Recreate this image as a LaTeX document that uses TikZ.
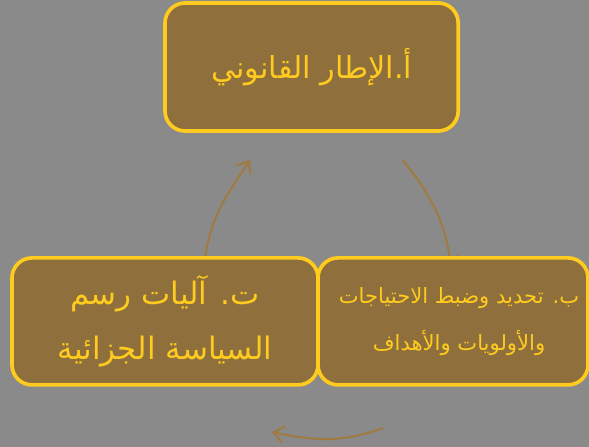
\documentclass[tikz,border=0pt]{standalone}
\usepackage{fontspec}
\usepackage{tikz}
\usetikzlibrary{positioning,arrows.meta}
\newfontfamily\arabicfont[Script=Arabic]{DejaVu Sans}
\TeXXeTstate=1
\definecolor{bggray}{HTML}{8A8A8A}
\definecolor{boxbrown}{HTML}{8F703C}
\definecolor{boxgold}{HTML}{FFCB1F}
\definecolor{arrbrown}{HTML}{A07A3E}

\begin{document}
\begin{tikzpicture}[
  bx/.style={draw=boxgold, fill=boxbrown, line width=2.6pt, rounded corners=0.5cm,
    align=center, text=boxgold, inner sep=0pt},
  arr/.style={-{Straight Barb[length=2.6mm, width=4.2mm]}, arrbrown, line width=1.4pt}]

% --- canvas ---
\fill[bggray] (0,0) rectangle (14.725,11.175);
\useasboundingbox (0,0) rectangle (14.725,11.175);

% --- free ends of the cycle arrows ---
\coordinate (r0) at (10.075,7.175);
\coordinate (r1) at (11.27,4.48);
\coordinate (l0) at (5.12,4.7);
\coordinate (l1) at (6.25,7.175);
\coordinate (b0) at (9.575,0.475);
\coordinate (b1) at (6.8,0.375);

% --- cycle arrows (under the boxes) ---
\draw[arr] (r0) to[out=-52, in=96] (r1);
\draw[arr] (l0) to[out=82, in=236] (l1);
\draw[arr] (b0) to[out=200, in=-12] (b1);

% --- the three stages ---
\node[bx, minimum width=7.33cm, minimum height=3.2cm, font=\arabicfont\fontsize{21.5}{26}\selectfont]
  (legal) at (7.79,9.5) {\beginR أ.الإطار القانوني\endR};
\node[bx, minimum width=7.65cm, minimum height=3.175cm, font=\arabicfont\fontsize{22}{39}\selectfont]
  (mech) at (4.125,3.14) {\beginR ت. آليات رسم\endR\\\beginR السياسة الجزائية\endR};
\node[bx, minimum width=6.75cm, minimum height=3.175cm, font=\arabicfont\fontsize{15}{33}\selectfont]
  (needs) at (11.325,3.14) {\hspace*{0.3cm}\beginR ب. تحديد وضبط الاحتياجات\endR\\\hspace*{0.3cm}\beginR والأولويات والأهداف\endR};
\end{tikzpicture}
\end{document}
